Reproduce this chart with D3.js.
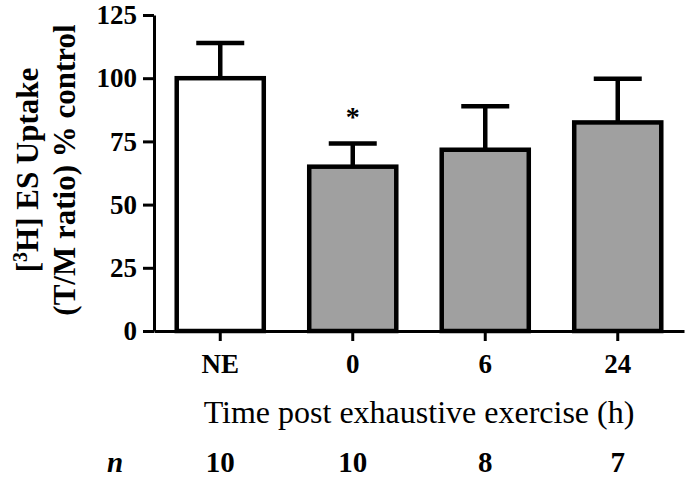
<!DOCTYPE html>
<html>
<head>
<meta charset="utf-8">
<script src="https://cdn.jsdelivr.net/npm/d3@7"></script>
<style>
  html, body { margin: 0; padding: 0; background: #fff; }
  svg { display: block; }
  text { font-family: "Liberation Serif", "Times New Roman", serif; fill: #000; }
</style>
</head>
<body>
<svg id="chart" width="685" height="482"></svg>
<script>
// ---- data ----
const categories = ["NE", "0", "6", "24"];
const values = [100, 65.0, 71.7, 82.5];
const errors = [13.9, 9.2, 17.2, 17.3];
const nValues = ["10", "10", "8", "7"];
const fills = ["#ffffff", "#a0a0a0", "#a0a0a0", "#a0a0a0"];
const significant = [false, true, false, false];
const yTicks = [0, 25, 50, 75, 100, 125];

const svg = d3.select("#chart");
const mLeft = 154, mRight = 684, mTop = 15, mBottom = 331;

const x = d3.scaleBand().domain(categories).range([mLeft, mRight])
  .paddingInner(0.343).paddingOuter(0.1715);
const y = d3.scaleLinear().domain([0, 125]).range([mBottom, mTop]);

const data = categories.map((c, i) => ({c, v: values[i], e: errors[i], fill: fills[i], sig: significant[i], n: nValues[i]}));

// bars
svg.append("g").selectAll("rect").data(data).join("rect")
  .attr("x", d => x(d.c))
  .attr("y", d => y(d.v))
  .attr("width", x.bandwidth())
  .attr("height", d => y(0) - y(d.v))
  .attr("fill", d => d.fill)
  .attr("stroke", "#000")
  .attr("stroke-width", 4.5);

// error bars
const eb = svg.append("g").attr("stroke", "#000").attr("stroke-width", 4.5);
eb.selectAll("line.v").data(data).join("line").attr("class", "v")
  .attr("x1", d => x(d.c) + x.bandwidth() / 2)
  .attr("x2", d => x(d.c) + x.bandwidth() / 2)
  .attr("y1", d => y(d.v))
  .attr("y2", d => y(d.v + d.e));
eb.selectAll("line.cap").data(data).join("line").attr("class", "cap")
  .attr("x1", d => x(d.c) + x.bandwidth() / 2 - 24)
  .attr("x2", d => x(d.c) + x.bandwidth() / 2 + 24)
  .attr("y1", d => y(d.v + d.e))
  .attr("y2", d => y(d.v + d.e));

// significance asterisk
svg.append("g").selectAll("text").data(data.filter(d => d.sig)).join("text")
  .attr("x", d => x(d.c) + x.bandwidth() / 2)
  .attr("y", d => y(d.v + d.e) - 17)
  .attr("text-anchor", "middle")
  .attr("font-size", 28)
  .attr("font-weight", "bold")
  .text("*");

// y axis
const yAxis = svg.append("g").attr("transform", `translate(${mLeft},0)`)
  .call(d3.axisLeft(y).tickValues(yTicks).tickSize(11).tickSizeOuter(0).tickPadding(6));
yAxis.select(".domain").attr("stroke", "#000").attr("stroke-width", 3);
yAxis.selectAll(".tick line").attr("stroke", "#000").attr("stroke-width", 3);
yAxis.selectAll(".tick text")
  .attr("font-family", "'Liberation Serif', 'Times New Roman', serif")
  .attr("font-size", 27).attr("font-weight", "bold").attr("fill", "#000");

// x axis
const xAxis = svg.append("g").attr("transform", `translate(0,${mBottom})`)
  .call(d3.axisBottom(x).tickSize(10).tickSizeOuter(0).tickPadding(13));
xAxis.select(".domain").attr("stroke", "#000").attr("stroke-width", 3);
xAxis.selectAll(".tick line").attr("stroke", "#000").attr("stroke-width", 3);
xAxis.selectAll(".tick text")
  .attr("font-family", "'Liberation Serif', 'Times New Roman', serif")
  .attr("font-size", 27).attr("font-weight", "bold").attr("fill", "#000");

// x title
svg.append("text")
  .attr("x", (mLeft + mRight) / 2)
  .attr("y", 423)
  .attr("text-anchor", "middle")
  .attr("font-size", 32)
  .text("Time post exhaustive exercise (h)");

// n row
svg.append("text")
  .attr("x", 115).attr("y", 472)
  .attr("text-anchor", "middle")
  .attr("font-size", 29).attr("font-weight", "bold").attr("font-style", "italic")
  .text("n");
svg.append("g").selectAll("text").data(data).join("text")
  .attr("x", d => x(d.c) + x.bandwidth() / 2)
  .attr("y", 472)
  .attr("text-anchor", "middle")
  .attr("font-size", 29).attr("font-weight", "bold")
  .text(d => d.n);

// y title
const yt = svg.append("g").attr("transform", "translate(0,170) rotate(-90)");
const l1 = yt.append("text").attr("x", 0).attr("y", 38)
  .attr("text-anchor", "middle").attr("font-size", 31).attr("font-weight", "bold");
l1.append("tspan").text("[");
l1.append("tspan").attr("font-size", 20).attr("dy", -11).text("3");
l1.append("tspan").attr("dy", 11).text("H] ES Uptake");
yt.append("text").attr("x", 0).attr("y", 75)
  .attr("text-anchor", "middle").attr("font-size", 31).attr("font-weight", "bold")
  .text("(T/M ratio) % control");
</script>
</body>
</html>
